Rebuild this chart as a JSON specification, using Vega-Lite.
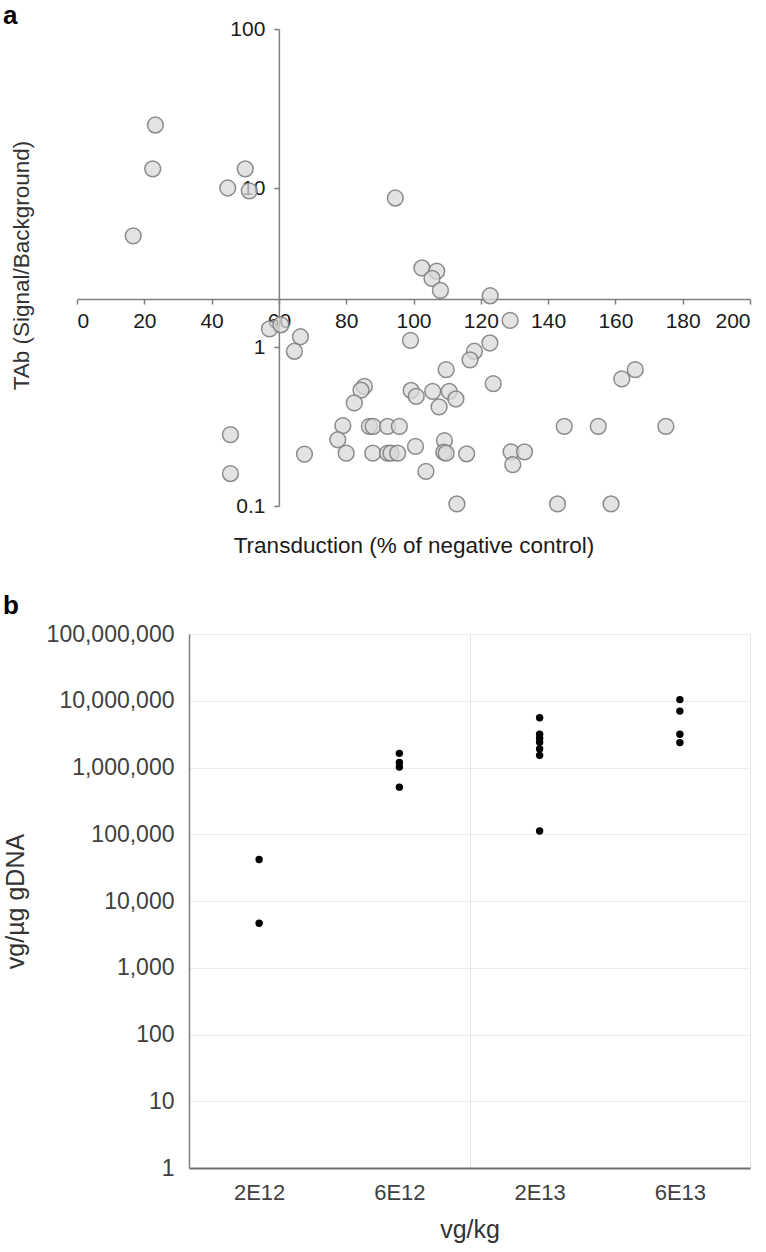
{
  "$schema": "https://vega.github.io/schema/vega-lite/v6.json",
  "padding": {"left": 2, "top": 3, "right": 0, "bottom": 0},
  "config": {
    "font": "Liberation Sans",
    "axis": {"labelFont": "Liberation Sans", "titleFont": "Liberation Sans", "titleFontWeight": "normal"}
  },
  "spacing": 35,
  "vconcat": [
    {
      "title": {"text": "a", "anchor": "start", "frame": "bounds", "fontSize": 26, "fontWeight": "bold", "color": "#000", "offset": -11, "dx": -8},
      "width": 561,
      "height": 477,
      "view": {"stroke": null},
      "data": {"values": [
        {"transduction": 23.3, "tab": 24.9},
        {"transduction": 22.5, "tab": 13.2},
        {"transduction": 50.0, "tab": 13.2},
        {"transduction": 44.8, "tab": 10.0},
        {"transduction": 51.2, "tab": 9.6},
        {"transduction": 16.7, "tab": 5.0},
        {"transduction": 94.6, "tab": 8.65},
        {"transduction": 102.5, "tab": 3.14},
        {"transduction": 106.9, "tab": 3.0},
        {"transduction": 105.5, "tab": 2.7},
        {"transduction": 108.0, "tab": 2.27},
        {"transduction": 122.8, "tab": 2.1},
        {"transduction": 128.7, "tab": 1.47},
        {"transduction": 57.2, "tab": 1.3},
        {"transduction": 60.6, "tab": 1.38},
        {"transduction": 66.4, "tab": 1.16},
        {"transduction": 64.6, "tab": 0.94},
        {"transduction": 99.1, "tab": 1.1},
        {"transduction": 122.7, "tab": 1.06},
        {"transduction": 118.1, "tab": 0.94},
        {"transduction": 116.8, "tab": 0.83},
        {"transduction": 109.7, "tab": 0.72},
        {"transduction": 123.7, "tab": 0.588},
        {"transduction": 161.9, "tab": 0.63},
        {"transduction": 165.9, "tab": 0.72},
        {"transduction": 85.4, "tab": 0.565},
        {"transduction": 84.4, "tab": 0.535},
        {"transduction": 82.4, "tab": 0.445},
        {"transduction": 99.3, "tab": 0.533},
        {"transduction": 100.8, "tab": 0.489},
        {"transduction": 105.7, "tab": 0.526},
        {"transduction": 110.6, "tab": 0.526},
        {"transduction": 112.6, "tab": 0.471},
        {"transduction": 107.6, "tab": 0.42},
        {"transduction": 79.0, "tab": 0.32},
        {"transduction": 77.5, "tab": 0.261},
        {"transduction": 80.0, "tab": 0.215},
        {"transduction": 86.9, "tab": 0.317},
        {"transduction": 88.0, "tab": 0.317},
        {"transduction": 92.3, "tab": 0.317},
        {"transduction": 95.8, "tab": 0.317},
        {"transduction": 87.9, "tab": 0.215},
        {"transduction": 92.3, "tab": 0.215},
        {"transduction": 93.3, "tab": 0.215},
        {"transduction": 95.3, "tab": 0.215},
        {"transduction": 100.6, "tab": 0.237},
        {"transduction": 109.2, "tab": 0.258},
        {"transduction": 109.0, "tab": 0.218},
        {"transduction": 109.7, "tab": 0.215},
        {"transduction": 115.8, "tab": 0.213},
        {"transduction": 103.7, "tab": 0.165},
        {"transduction": 144.8, "tab": 0.317},
        {"transduction": 154.9, "tab": 0.317},
        {"transduction": 175.0, "tab": 0.317},
        {"transduction": 129.0, "tab": 0.219},
        {"transduction": 133.0, "tab": 0.219},
        {"transduction": 129.5, "tab": 0.182},
        {"transduction": 112.9, "tab": 0.103},
        {"transduction": 142.8, "tab": 0.103},
        {"transduction": 158.7, "tab": 0.103},
        {"transduction": 45.6, "tab": 0.281},
        {"transduction": 45.6, "tab": 0.16},
        {"transduction": 67.6, "tab": 0.212}
      ]},
      "mark": {"type": "circle", "size": 250, "fill": "#d9d9d9", "fillOpacity": 0.75, "stroke": "#7a7a7a", "strokeWidth": 1.5, "strokeOpacity": 0.85, "clip": false},
      "encoding": {
        "x": {
          "field": "transduction", "type": "quantitative",
          "scale": {"domain": [0, 200], "nice": false, "zero": false, "range": [-112, 561]},
          "axis": {
            "values": [0, 20, 40, 60, 80, 100, 120, 140, 160, 180, 200],
            "offset": -206.9,
            "grid": false,
            "domainColor": "#7f7f7f", "domainWidth": 1.5,
            "tickColor": "#7f7f7f", "tickSize": 5, "tickWidth": 1.5,
            "labelFontSize": 21, "labelColor": "#1a1a1a", "labelPadding": 6,
            "title": "Transduction (% of negative control)",
            "titleFontSize": 22.5, "titleColor": "#1a1a1a", "titleY": 235
          }
        },
        "y": {
          "field": "tab", "type": "quantitative",
          "scale": {"type": "log", "domain": [0.1, 100], "nice": false},
          "axis": {
            "values": [0.1, 1, 10, 100],
            "format": "~g",
            "offset": -89.9,
            "grid": false,
            "domainColor": "#7f7f7f", "domainWidth": 1.5,
            "tickColor": "#7f7f7f", "tickSize": 5, "tickWidth": 1.5,
            "labelFontSize": 21, "labelColor": "#1a1a1a", "labelPadding": 9,
            "title": "TAb (Signal/Background)",
            "titleFontSize": 22.5, "titleColor": "#333333", "titleX": -245, "titleY": 236
          }
        }
      }
    },
    {
      "title": {"text": "b", "anchor": "start", "frame": "bounds", "fontSize": 26, "fontWeight": "bold", "color": "#000", "offset": 4, "dx": 0},
      "width": 561,
      "height": 534,
      "view": {"stroke": "#e6e6e6"},
      "data": {"values": [
        {"dose": "2E12", "vg": 41900},
        {"dose": "2E12", "vg": 4640},
        {"dose": "6E12", "vg": 1630000},
        {"dose": "6E12", "vg": 1190000},
        {"dose": "6E12", "vg": 1020000},
        {"dose": "6E12", "vg": 508000},
        {"dose": "2E13", "vg": 5570000},
        {"dose": "2E13", "vg": 3160000},
        {"dose": "2E13", "vg": 2740000},
        {"dose": "2E13", "vg": 2390000},
        {"dose": "2E13", "vg": 1900000},
        {"dose": "2E13", "vg": 1520000},
        {"dose": "2E13", "vg": 112000},
        {"dose": "6E13", "vg": 10400000},
        {"dose": "6E13", "vg": 7000000},
        {"dose": "6E13", "vg": 3140000},
        {"dose": "6E13", "vg": 2360000}
      ]},
      "mark": {"type": "circle", "size": 55, "color": "#000000", "opacity": 1},
      "encoding": {
        "x": {
          "field": "dose", "type": "nominal",
          "sort": ["2E12", "6E12", "2E13", "6E13"],
          "scale": {"type": "band", "paddingInner": 0, "paddingOuter": 0},
          "axis": {
            "labelAngle": 0,
            "ticks": false,
            "tickBand": "extent",
            "grid": true,
            "gridColor": {"condition": {"test": "datum.value === '6E12'", "value": "#e6e6e6"}, "value": "transparent"},
            "domainColor": "#6e6e6e", "domainWidth": 2,
            "labelFontSize": 22, "labelColor": "#404040", "labelPadding": 14,
            "title": "vg/kg",
            "titleFontSize": 25, "titleColor": "#333333", "titlePadding": 14
          }
        },
        "y": {
          "field": "vg", "type": "quantitative",
          "scale": {"type": "log", "domain": [1, 100000000], "nice": false},
          "axis": {
            "values": [1, 10, 100, 1000, 10000, 100000, 1000000, 10000000, 100000000],
            "format": ",",
            "grid": true, "gridColor": "#ebebeb",
            "ticks": false,
            "domainColor": "#808080", "domainWidth": 1.5,
            "labelFontSize": 23, "labelColor": "#404040", "labelPadding": 15,
            "title": "vg/µg gDNA",
            "titleFontSize": 25, "titleColor": "#333333", "titlePadding": 18
          }
        }
      }
    }
  ]
}
